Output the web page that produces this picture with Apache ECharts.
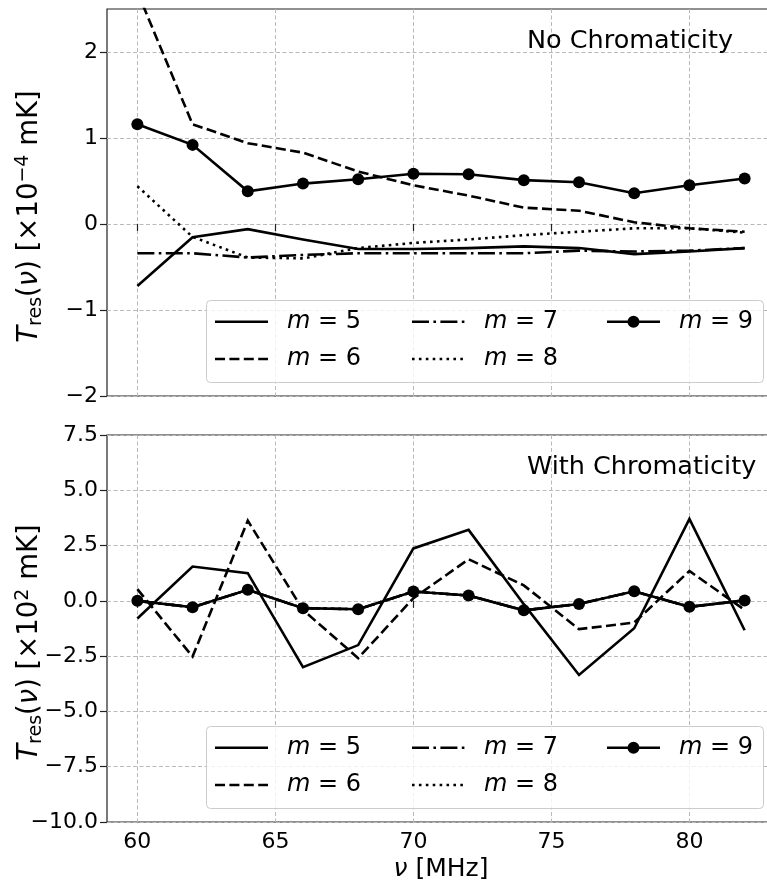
<!DOCTYPE html>
<html>
<head>
<meta charset="utf-8">
<script src="https://cdn.jsdelivr.net/npm/echarts@6/dist/echarts.min.js"></script>
<style>
  html, body { margin: 0; padding: 0; background: #fff; }
  #chart { width: 767px; height: 884px; }
</style>
</head>
<body>
<div id="chart"></div>
<script>
// Frequency channels, MHz
const freq = [60, 62, 64, 66, 68, 70, 72, 74, 76, 78, 80, 82];
const xTicks = [60, 65, 70, 75, 80];

// Residuals without chromaticity, in units of 1e-4 mK
const noChromM5 = [-0.72, -0.155, -0.06, -0.18, -0.29, -0.29, -0.28, -0.26, -0.28, -0.35, -0.32, -0.28];
const noChromM6 = [2.70, 1.16, 0.94, 0.83, 0.61, 0.45, 0.33, 0.19, 0.155, 0.02, -0.05, -0.09];
const noChromM7 = [-0.34, -0.34, -0.39, -0.36, -0.34, -0.34, -0.34, -0.34, -0.31, -0.32, -0.31, -0.28];
const noChromM8 = [0.44, -0.15, -0.39, -0.40, -0.28, -0.22, -0.18, -0.13, -0.09, -0.05, -0.05, -0.10];
const noChromM9 = [1.16, 0.92, 0.38, 0.47, 0.52, 0.585, 0.578, 0.51, 0.485, 0.357, 0.45, 0.53];
const noChromTicks = [-2, -1, 0, 1, 2];

// Residuals with chromaticity, in units of 1e2 mK
const chromM5 = [-0.80, 1.55, 1.25, -3.00, -2.00, 2.37, 3.21, -0.15, -3.35, -1.24, 3.71, -1.33];
const chromM6 = [0.53, -2.52, 3.63, -0.41, -2.59, 0.12, 1.88, 0.70, -1.28, -0.98, 1.35, -0.41];
const chromM7 = [0.00, -0.29, 0.50, -0.33, -0.38, 0.42, 0.24, -0.43, -0.14, 0.43, -0.27, 0.02];
const chromM8 = [0.00, -0.29, 0.50, -0.33, -0.38, 0.42, 0.24, -0.43, -0.14, 0.43, -0.27, 0.02];
const chromM9 = [0.00, -0.29, 0.50, -0.33, -0.38, 0.42, 0.24, -0.43, -0.14, 0.43, -0.27, 0.02];

const seriesNames = ['m = 5', 'm = 6', 'm = 7', 'm = 8', 'm = 9'];

const FONT = 'DejaVu Sans';
const LW = 2.6;
const DASH = {
  solid: 'solid',
  dashed: [10, 4.4],
  dashdot: [17, 4.4, 2.6, 4.4],
  dotted: [2.6, 4.3]
};
const styles = ['solid', 'dashed', 'dashdot', 'dotted', 'solid'];

// Legend handle: a short line in the series dash style, optional dot in the middle
const ICON_W = 53, ICON_H = 12;
function rectPath(x1, x2, y0, y1) {
  return 'M' + x1 + ',' + y0 + 'H' + x2 + 'V' + y1 + 'H' + x1 + 'Z';
}
function iconPath(dash, withDot) {
  const y0 = (ICON_H - LW) / 2, y1 = y0 + LW;
  const r = 6, cx = ICON_W / 2, cy = ICON_H / 2;
  let d = 'M0,0 M' + ICON_W + ',' + ICON_H + ' ';
  if (!Array.isArray(dash)) {
    if (withDot) {
      d += rectPath(0, cx - r + 0.5, y0, y1) + rectPath(cx + r - 0.5, ICON_W, y0, y1);
    } else {
      d += rectPath(0, ICON_W, y0, y1);
    }
  } else {
    let x = 0, k = 0;
    while (x < ICON_W) {
      const len = dash[k % dash.length];
      if (k % 2 === 0) d += rectPath(x, Math.min(x + len, ICON_W), y0, y1);
      x += len;
      k++;
    }
  }
  if (withDot) {
    d += 'M' + (cx - r) + ',' + cy + 'A' + r + ',' + r + ' 0 1,1 ' + (cx + r) + ',' + cy +
         'A' + r + ',' + r + ' 0 1,1 ' + (cx - r) + ',' + cy + 'Z';
  }
  return 'path://' + d;
}

function makeSeries(name, values, idx, styleKey, marker) {
  return {
    type: 'line',
    name: name,
    xAxisIndex: idx,
    yAxisIndex: idx,
    data: freq.map((f, i) => [f, values[i]]),
    symbol: marker ? 'circle' : 'none',
    symbolSize: 12,
    showSymbol: marker,
    color: '#000',
    itemStyle: { color: '#000', borderWidth: 0 },
    lineStyle: { color: '#000', width: LW, type: DASH[styleKey], cap: 'butt', join: 'miter' },
    clip: true,
    silent: true,
    animation: false,
    z: marker ? 4 : 3
  };
}

const minus = v => (v < 0 ? '\u2212' : '');
const fmtInt = v => minus(v) + Math.abs(v);
const fmtOne = v => minus(v) + Math.abs(v).toFixed(1);

const gridBox = (top) => ({
  left: 107, top: top, width: 668, height: 387,
  outerBoundsMode: 'none', containLabel: false,
  show: true, borderColor: '#222', borderWidth: 1.2, backgroundColor: 'transparent'
});

const gridLine = { show: true, lineStyle: { color: '#b9b9b9', width: 1, type: [4, 2.5] } };
const tickStyle = { show: true, length: 7, lineStyle: { color: '#222', width: 1.2 } };

const NAME_SIZE = 25;
const xNameRich = {
  it: { fontFamily: FONT, fontSize: NAME_SIZE, fontStyle: 'italic', color: '#000' },
  n: { fontFamily: FONT, fontSize: NAME_SIZE, color: '#000' }
};
const Y_NAME_SIZE = 27.5;
const yNameRich = {
  it: { fontFamily: FONT, fontSize: Y_NAME_SIZE, fontStyle: 'italic', color: '#000' },
  n: { fontFamily: FONT, fontSize: Y_NAME_SIZE, color: '#000' },
  sub: { fontFamily: FONT, fontSize: 19, color: '#000', padding: [13, 0, 0, 0] },
  sup: { fontFamily: FONT, fontSize: 19, color: '#000', padding: [0, 0, 13, 0] }
};

function xAxis(idx, withLabels) {
  return {
    type: 'value', gridIndex: idx, min: 58.9, max: 83.1,
    axisLine: { show: false },
    axisTick: Object.assign({ customValues: xTicks }, tickStyle),
    axisLabel: {
      show: withLabels, customValues: xTicks, margin: 9,
      color: '#000', fontFamily: FONT, fontSize: 22
    },
    splitLine: gridLine,
    name: withLabels ? '{it|\u03bd}{n| [MHz]}' : '',
    nameLocation: 'middle',
    nameGap: 35,
    nameMoveOverlap: false,
    nameTextStyle: { color: '#000', fontFamily: FONT, fontSize: NAME_SIZE, rich: xNameRich }
  };
}

function yAxis(idx, opts) {
  return Object.assign({
    type: 'value', gridIndex: idx,
    axisLine: { show: false },
    axisTick: tickStyle,
    axisLabel: { margin: 9, color: '#000', fontFamily: FONT, fontSize: 22 },
    splitLine: gridLine,
    nameLocation: 'middle',
    nameRotate: 90,
    nameGap: 61,
    nameMoveOverlap: false,
    nameTextStyle: {
      color: '#000', fontFamily: FONT, fontSize: Y_NAME_SIZE,
      padding: [0, 28, 0, 0],
      rich: yNameRich
    }
  }, opts);
}

const yName = exp => '{it|T}{sub|res}{n|(}{it|\u03bd}{n|) [\u00d710}{sup|' + exp + '}{n| mK]}';

const legendIcons = [
  iconPath(DASH.solid, false),
  iconPath(DASH.dashed, false),
  iconPath(DASH.dashdot, false),
  iconPath(DASH.dotted, false),
  iconPath(DASH.solid, true)
];

const LEGEND_SIZE = 24;
function legendColumn(left, top, names) {
  return {
    orient: 'vertical', left: left, top: top, padding: 0,
    itemWidth: ICON_W, itemHeight: 14, itemGap: 11.3,
    selectedMode: false, z: 12,
    itemStyle: { color: '#000', borderWidth: 0 },
    data: names.map(n => ({ name: n, icon: legendIcons[seriesNames.indexOf(n)] })),
    formatter: n => '{i|m}{t| = ' + n.split('= ')[1] + '}',
    textStyle: {
      fontFamily: FONT, fontSize: LEGEND_SIZE, lineHeight: 26, color: '#000',
      padding: [0, 0, 0, 14],
      rich: {
        i: { fontFamily: FONT, fontSize: LEGEND_SIZE, fontStyle: 'italic', color: '#000' },
        t: { fontFamily: FONT, fontSize: LEGEND_SIZE, color: '#000' }
      }
    }
  };
}

function legendsFor(rowTop) {
  return [
    legendColumn(215, rowTop, ['m = 5', 'm = 6']),
    legendColumn(412, rowTop, ['m = 7', 'm = 8']),
    legendColumn(607, rowTop, ['m = 9'])
  ];
}

const frame = top => ({
  type: 'rect', left: 206, top: top, z: 11,
  shape: { width: 557, height: 82, r: 4 },
  style: { fill: 'rgba(255,255,255,0.8)', stroke: '#cccccc', lineWidth: 1 }
});

const chart = echarts.init(document.getElementById('chart'), null, { renderer: 'canvas' });
chart.setOption({
  backgroundColor: '#fff',
  animation: false,
  textStyle: { fontFamily: FONT },
  title: [
    { text: 'No Chromaticity', left: 527, top: 28, padding: 0,
      textStyle: { fontFamily: FONT, fontSize: 25.5, fontWeight: 'normal', color: '#000' } },
    { text: 'With Chromaticity', left: 527, top: 454, padding: 0,
      textStyle: { fontFamily: FONT, fontSize: 25.5, fontWeight: 'normal', color: '#000' } }
  ],
  grid: [gridBox(9), gridBox(435)],
  xAxis: [xAxis(0, false), xAxis(1, true)],
  yAxis: [
    yAxis(0, {
      min: -2, max: 2.5,
      axisTick: Object.assign({ customValues: noChromTicks }, tickStyle),
      axisLabel: { customValues: noChromTicks, formatter: fmtInt, margin: 9,
                   color: '#000', fontFamily: FONT, fontSize: 22 },
      name: yName('\u22124')
    }),
    yAxis(1, {
      min: -10, max: 7.5, interval: 2.5,
      axisLabel: { formatter: fmtOne, margin: 9, color: '#000', fontFamily: FONT, fontSize: 22 },
      name: yName('2')
    })
  ],
  legend: legendsFor(308.7).concat(legendsFor(734.7)),
  graphic: [frame(300), frame(726)],
  series: [
    makeSeries('m = 5', noChromM5, 0, styles[0], false),
    makeSeries('m = 6', noChromM6, 0, styles[1], false),
    makeSeries('m = 7', noChromM7, 0, styles[2], false),
    makeSeries('m = 8', noChromM8, 0, styles[3], false),
    makeSeries('m = 9', noChromM9, 0, styles[4], true),
    makeSeries('m = 5', chromM5, 1, styles[0], false),
    makeSeries('m = 6', chromM6, 1, styles[1], false),
    makeSeries('m = 7', chromM7, 1, styles[2], false),
    makeSeries('m = 8', chromM8, 1, styles[3], false),
    makeSeries('m = 9', chromM9, 1, styles[4], true)
  ]
});
</script>
</body>
</html>
